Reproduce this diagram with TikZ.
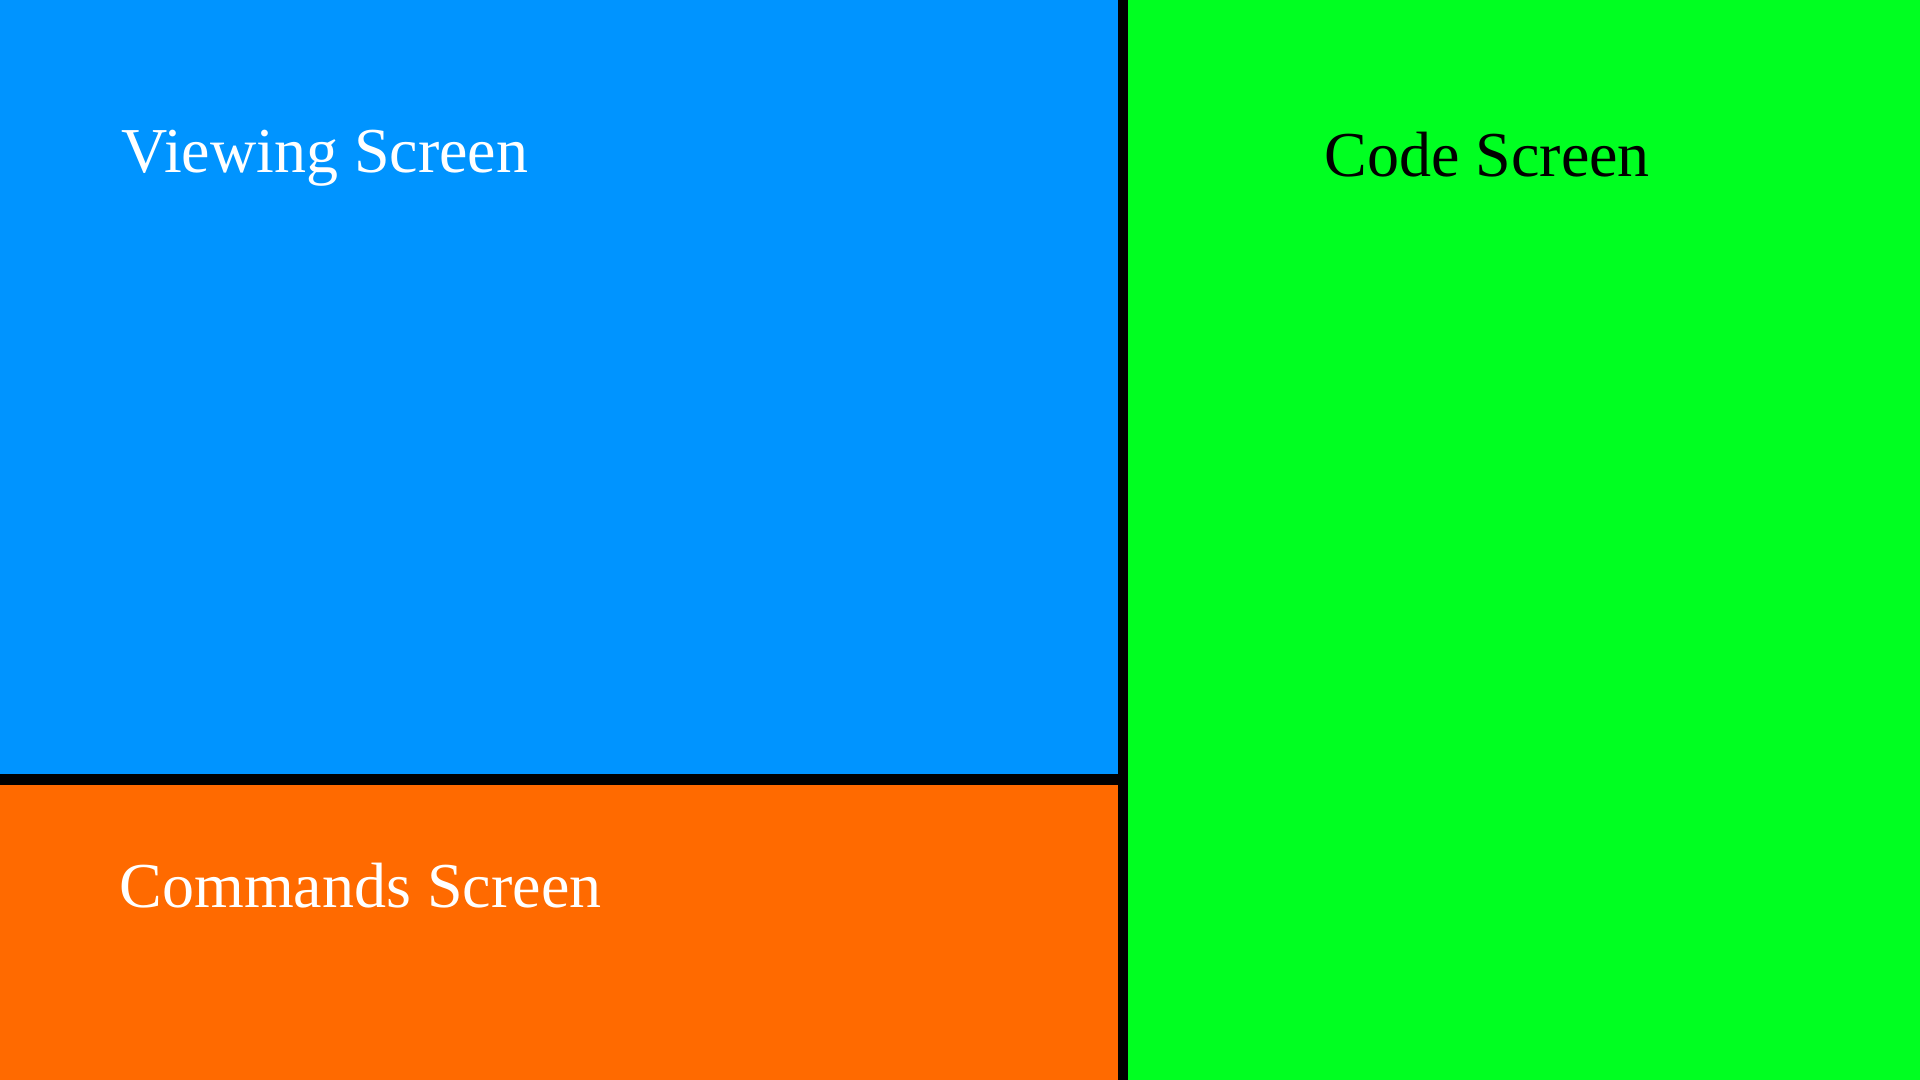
\documentclass[tikz,border=0pt]{standalone}
\usepackage{fontspec}
\setmainfont{Liberation Serif}
\usepackage{xcolor}
\usepackage{tikz}
\usetikzlibrary{positioning}
\definecolor{viewblue}{RGB}{0,148,255}
\definecolor{codegreen}{RGB}{0,255,33}
\definecolor{cmdorange}{RGB}{255,106,0}

\begin{document}
\begin{tikzpicture}[
  x=0.01cm, y=-0.01cm,
  title/.style={anchor=base west, inner sep=0pt, font=\fontsize{18.2}{21}\selectfont}
]
\useasboundingbox (0,0) rectangle (1920,1080);
\fill[black] (0,0) rectangle (1920,1080);
\fill[viewblue] (0,0) rectangle (1118,774);
\fill[cmdorange] (0,785) rectangle (1118,1080);
\fill[codegreen] (1128,0) rectangle (1920,1080);
\node[title, text=white] (viewing) at (121,173) {Viewing Screen};
\node[title, text=black] (code) at (1324,177) {Code Screen};
\node[title, text=white] (commands) at (119,908) {Commands Screen};
\end{tikzpicture}
\end{document}
